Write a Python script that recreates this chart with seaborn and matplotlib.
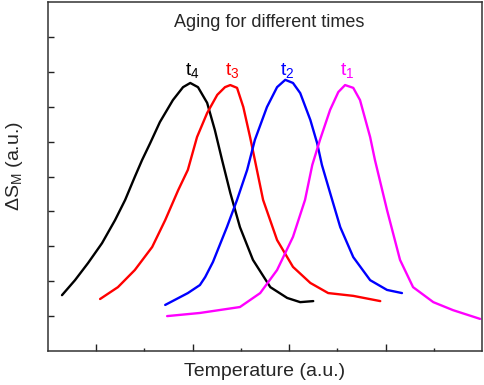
import numpy as np
import pandas as pd
import matplotlib
matplotlib.use("Agg")
import matplotlib.pyplot as plt
from matplotlib.ticker import NullFormatter
import seaborn as sns

sns.set_style("ticks")
plt.rcParams['font.family'] = ['Liberation Sans', 'DejaVu Sans']
plt.rcParams['mathtext.fontset'] = 'custom'
plt.rcParams['mathtext.rm'] = 'Liberation Sans'

# curves (arbitrary units)
t4_x = [0.29, 0.56, 0.83, 1.12, 1.39, 1.60, 1.80, 1.95, 2.12, 2.32, 2.59, 2.80, 2.95, 3.11, 3.30, 3.46,
        3.61, 3.78, 3.98, 4.25, 4.61, 4.96, 5.23, 5.50]
t4_y = [1.60, 2.03, 2.52, 3.09, 3.75, 4.33, 4.99, 5.47, 5.96, 6.56, 7.19, 7.56, 7.68, 7.56, 7.11, 6.33,
        5.47, 4.53, 3.55, 2.61, 1.83, 1.52, 1.40, 1.43]

t3_x = [1.08, 1.45, 1.80, 2.16, 2.43, 2.70, 2.90, 3.09, 3.30, 3.51, 3.67, 3.78, 3.92, 4.05, 4.19, 4.29,
        4.46, 4.75, 5.08, 5.44, 5.81, 6.33, 6.89]
t3_y = [1.49, 1.83, 2.32, 2.98, 3.75, 4.61, 5.19, 6.13, 6.82, 7.34, 7.56, 7.62, 7.54, 6.99, 6.13, 5.47,
        4.33, 3.18, 2.41, 1.95, 1.66, 1.58, 1.43]

t2_x = [2.43, 2.90, 3.15, 3.26, 3.42, 3.71, 3.92, 4.13, 4.29, 4.54, 4.75, 4.92, 5.08, 5.23, 5.44, 5.58,
        5.68, 5.85, 6.06, 6.33, 6.68, 7.03, 7.34]
t2_y = [1.32, 1.66, 1.89, 2.12, 2.55, 3.55, 4.33, 5.19, 6.05, 6.99, 7.56, 7.77, 7.68, 7.39, 6.62, 5.96,
        5.33, 4.53, 3.55, 2.69, 2.03, 1.75, 1.66]

t1_x = [2.47, 3.15, 3.98, 4.40, 4.75, 5.08, 5.33, 5.48, 5.64, 5.85, 6.02, 6.16, 6.33, 6.47, 6.68, 6.78,
        7.03, 7.30, 7.57, 7.99, 8.40, 8.96]
t1_y = [1.00, 1.09, 1.26, 1.66, 2.32, 3.27, 4.33, 5.33, 6.05, 6.91, 7.42, 7.62, 7.54, 7.19, 6.13, 5.47,
        4.04, 2.61, 1.83, 1.40, 1.17, 0.92]

series = ["t4", "t3", "t2", "t1"]
colors = {"t4": "black", "t3": "#ff0000", "t2": "#0000ff", "t1": "#ff00ff"}
xs = {"t4": t4_x, "t3": t3_x, "t2": t2_x, "t1": t1_x}
ys = {"t4": t4_y, "t3": t3_y, "t2": t2_y, "t1": t1_y}

df = pd.concat([pd.DataFrame({"T": xs[s], "S": ys[s], "curve": s}) for s in series], ignore_index=True)

fig = plt.figure(figsize=(4.84, 3.85), dpi=100)
ax = fig.add_axes([0.0992, 0.0883, 0.8967, 0.9065])
sns.lineplot(data=df, x="T", y="S", hue="curve", palette=colors, estimator=None,
             sort=False, linewidth=1.7, legend=False, ax=ax,
             solid_joinstyle="round", solid_capstyle="round")

# peak labels
for s in series:
    i = int(np.argmax(ys[s]))
    ax.text(xs[s][i] + 0.04, 7.75, r"t$_{%s}$" % s[1], color=colors[s],
            fontsize=14, ha="center", va="bottom")

ax.text(0.51, 0.94, "Aging for different times", transform=ax.transAxes,
        ha="center", va="center", fontsize=13)

ax.set_xlim(0, 9)
ax.set_ylim(0, 10)
ax.set_xticks([1, 3, 5, 7])
ax.set_xticks([2, 4, 6, 8], minor=True)
ax.set_yticks(range(1, 10))
ax.xaxis.set_major_formatter(NullFormatter())
ax.yaxis.set_major_formatter(NullFormatter())
ax.tick_params(axis="y", which="major", direction="in", length=4.3, width=1, color="#222222")
ax.tick_params(axis="x", which="major", direction="in", length=5, width=1, color="#222222")
ax.tick_params(axis="x", which="minor", direction="in", length=2.3, width=1, color="#222222")

for sp in ax.spines.values():
    sp.set_visible(True)
    sp.set_linewidth(1.1)
    sp.set_color("#333333")

ax.set_xlabel("Temperature (a.u.)", fontsize=14, labelpad=5)
ax.set_ylabel(r"$\Delta$S$_\mathregular{M}$ (a.u.)", fontsize=14)
ax.yaxis.set_label_coords(-0.052, 0.53)

fig.savefig("out.png", dpi=100)
